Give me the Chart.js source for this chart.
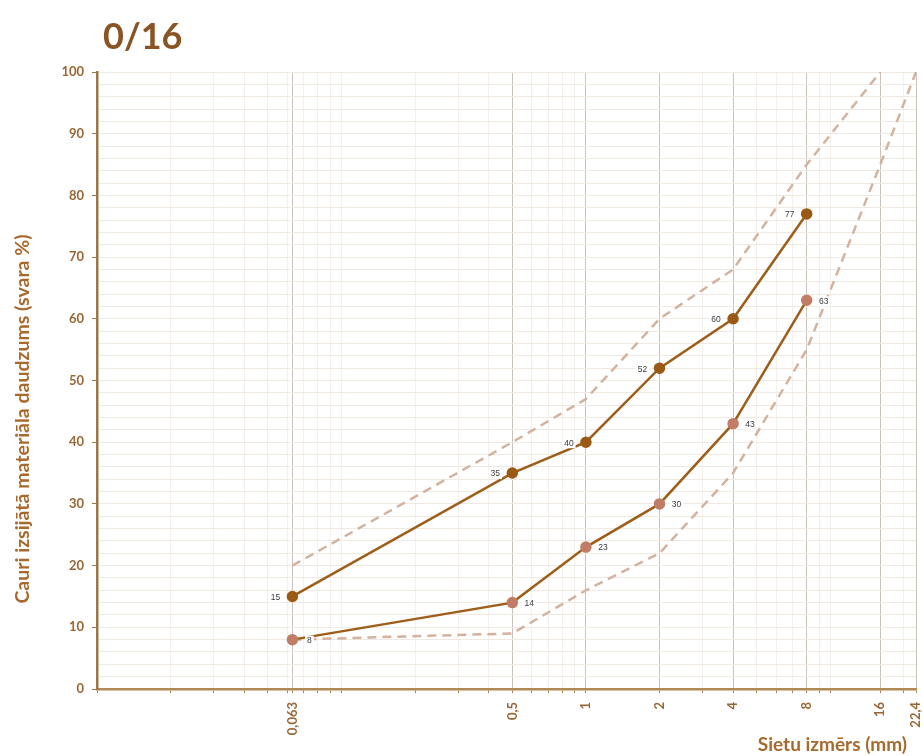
<!DOCTYPE html>
<html><head><meta charset="utf-8">
<script src="https://cdn.jsdelivr.net/npm/chart.js@4/dist/chart.umd.min.js"></script>
<style>html,body{margin:0;padding:0;background:#fff}#wrap{width:923px;height:756px;position:relative}</style>
</head><body><div id="wrap"><canvas id="c" width="923" height="756"></canvas></div>
<script>
// ---- data ----
const chartTitle = '0/16';
const yTitle = 'Cauri izsijātā materiāla daudzums (svara %)';
const xTitle = 'Sietu izmērs (mm)';
const tickSieves = [0.063, 0.5, 1, 2, 4, 8, 16, 22.4];
const tickLabels = ['0,063', '0,5', '1', '2', '4', '8', '16', '22,4'];
const sampleSieves = [0.063, 0.5, 1, 2, 4, 8];
const upperSample = [15, 35, 40, 52, 60, 77];
const lowerSample = [8, 14, 23, 30, 43, 63];
const upperLimitSieves = [0.063, 0.5, 1, 2, 4, 8, 16];
const upperLimit = [20, 40, 47, 60, 68, 85, 100];
const lowerLimitSieves = [0.063, 0.5, 1, 2, 4, 8, 16, 22.4];
const lowerLimit = [8, 9, 16, 22, 35, 55, 85, 100];

const pts = (xs, ys) => xs.map((x, i) => ({x: x, y: ys[i]}));
const isSieve = v => tickSieves.some(s => Math.abs(s - v) < 1e-9);
const labelFor = v => { const i = tickSieves.findIndex(s => Math.abs(s - v) < 1e-9); return i < 0 ? '' : tickLabels[i]; };

// minor log grid positions (axis decoration)
const minorX = [];
[0.01, 0.1, 1, 10].forEach(d => { for (let k = 1; k <= 9; k++) { const v = +(d * k).toPrecision(3); if (v <= 22.4 && v >= 0.01) minorX.push(v); } });

const LINE = '#9e5e1a';
const DASH = '#d3b39e';
const FONT = 'Lato, "Open Sans", sans-serif';

const valueLabels = {
  id: 'valueLabels',
  afterDatasetsDraw(chart) {
    const ctx = chart.ctx;
    ctx.save();
    ctx.font = '8.5px "Liberation Sans", Arial, sans-serif';
    ctx.textBaseline = 'middle';
    ctx.textAlign = 'center';
    [[0, -17], [1, 17]].forEach(([di, dx]) => {
      const meta = chart.getDatasetMeta(di);
      const data = chart.data.datasets[di].data;
      meta.data.forEach((el, i) => {
        const t = String(data[i].y);
        const w = ctx.measureText(t).width + 4;
        const x = el.x + dx, y = el.y + 1;
        ctx.fillStyle = '#fff';
        ctx.fillRect(x - w / 2, y - 5, w, 10);
        ctx.fillStyle = '#3a3a3a';
        ctx.fillText(t, x, y);
      });
    });
    ctx.restore();
  }
};

const texts = {
  id: 'texts',
  afterDraw(chart) {
    const ctx = chart.ctx;
    ctx.save();
    ctx.fillStyle = '#8a5323';
    ctx.font = 'bold 36px ' + FONT;
    ctx.textBaseline = 'alphabetic';
    ctx.textAlign = 'left';
    ctx.fillText(chartTitle, 103, 49);
    ctx.fillStyle = '#a8692c';
    ctx.font = 'bold 19px ' + FONT;
    ctx.textAlign = 'right';
    ctx.textBaseline = 'middle';
    ctx.fillText(xTitle, 907, 745);
    ctx.translate(23, 419);
    ctx.rotate(-Math.PI / 2);
    ctx.textAlign = 'center';
    ctx.font = 'bold 19.5px ' + FONT;
    ctx.fillText(yTitle, 0, 0);
    ctx.restore();
  }
};

new Chart(document.getElementById('c'), {
  type: 'line',
  data: {
    datasets: [
      {data: pts(sampleSieves, upperSample), borderColor: LINE, borderWidth: 2.5, pointRadius: 4.5, pointBackgroundColor: '#9a5a16', pointBorderColor: '#9a5a16', order: 0},
      {data: pts(sampleSieves, lowerSample), borderColor: LINE, borderWidth: 2.5, pointRadius: 4.5, pointBackgroundColor: '#c17d66', pointBorderColor: '#c17d66', order: 0},
      {data: pts(upperLimitSieves, upperLimit), borderColor: DASH, borderWidth: 2.5, borderDash: [9, 6], pointRadius: 0, order: 1},
      {data: pts(lowerLimitSieves, lowerLimit), borderColor: DASH, borderWidth: 2.5, borderDash: [9, 6], pointRadius: 0, order: 1}
    ]
  },
  options: {
    responsive: false,
    animation: false,
    layout: {padding: {top: 72, right: 3, left: 0, bottom: 0}},
    plugins: {legend: {display: false}, tooltip: {enabled: false}, title: {display: false}},
    scales: {
      x: {
        type: 'logarithmic', min: 0.01, max: 22.4,
        afterBuildTicks: s => { const vals = minorX.filter(v => !isSieve(v)).concat(tickSieves).sort((a, b) => a - b); s.ticks = vals.map(v => ({value: v})); },
        afterFit: s => { s.height = 67; s.paddingRight = 0; s.paddingLeft = 0; },
        ticks: {autoSkip: false, minRotation: 90, maxRotation: 90, padding: 9, color: '#9a6634', font: {family: FONT, size: 13, weight: 'bold'}, callback: v => labelFor(v)},
        grid: {
          color: c => isSieve(c.tick.value) ? '#c9c2ba' : '#f4f0eb',
          lineWidth: 1, tickLength: 4,
          tickColor: '#a8864f'
        },
        border: {color: '#b08a52', width: 2.5}
      },
      y: {
        min: 0, max: 100,
        afterFit: s => { s.width = 97; },
        ticks: {stepSize: 2, autoSkip: false, padding: 8, color: '#9a6634', font: {family: FONT, size: 13, weight: 'bold'}, callback: v => (v % 10 === 0 ? v : '')},
        grid: {
          color: c => '#efe9e2',
          lineWidth: 1, tickLength: 5,
          tickColor: c => (c.tick.value % 10 === 0 ? '#9a7648' : 'rgba(0,0,0,0)')
        },
        border: {color: '#9a7648', width: 2.5}
      }
    }
  },
  plugins: [valueLabels, texts]
});
</script>
</body></html>
